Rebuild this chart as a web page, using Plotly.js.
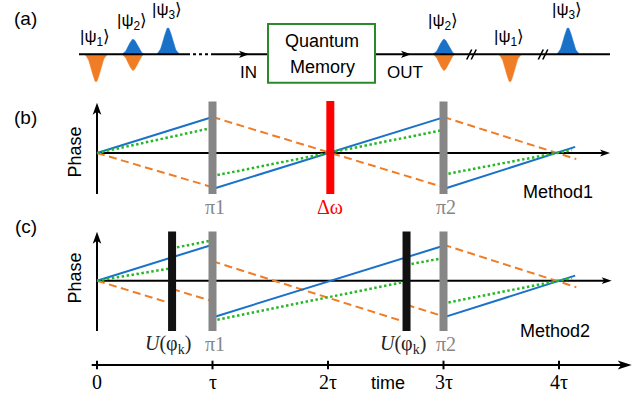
<!DOCTYPE html>
<html>
<head>
<meta charset="utf-8">
<script src="https://cdn.plot.ly/plotly-3.0.1.min.js"></script>
<style>
  html, body { margin: 0; padding: 0; background: #ffffff; }
  #chart { width: 637px; height: 394px; }
</style>
</head>
<body>
<div id="chart"></div>
<script>
// ---------- time axis (units of tau) ----------
const tickVals = [0, 1, 2, 3, 4];
const tickText = ['0', 'τ', '2τ', '3τ', '4τ'];

// ---------- control operations (times in units of tau) ----------
const piTimes = [1, 3];
const piNames = ['π1', 'π2'];
const shiftTimes = [2.02];
const shiftNames = ['Δω'];
const uTimes = [0.65, 2.68];
const uNames = ['<i>U</i>(φ<sub>k</sub>)', '<i>U</i>(φ<sub>k</sub>)'];

// ---------- Method 1: phase of each spectral component ----------
const m1BlueT   = [0, 1, null, 1, 3, null, 3, 4.14];
const m1BlueP   = [0, 1.00, null, -1.00, 0.99, null, -1.00, 0.17];
const m1GreenT  = [0, 1, null, 1, 3, null, 3, 4.11];
const m1GreenP  = [0, 0.70, null, -0.64, 0.64, null, -0.60, 0.08];
const m1OrangeT = [0, 1, null, 1, 3, null, 3, 4.15];
const m1OrangeP = [0, -0.95, null, 1.00, -0.95, null, 1.00, -0.17];

// ---------- Method 2: phase with U(phi_k) kicks ----------
const m2BlueT   = [0, 1, null, 1, 3, null, 3, 4.14];
const m2BlueP   = [0, 1.00, null, -1.02, 0.97, null, -1.02, 0.14];
const m2GreenT  = [0, 0.65, null, 0.65, 1, null, 1, 2.68, null, 2.68, 3, null, 3, 4.11];
const m2GreenP  = [0, 0.35, null, 0.90, 1.12, null, -1.11, -0.02, null, 0.44, 0.63, null, -0.63, 0.07];
const m2OrangeT = [0, 0.65, null, 0.65, 1, null, 1, 2.68, null, 2.68, 3, null, 3, 4.15];
const m2OrangeP = [0, -0.64, null, -0.23, -0.57, null, 0.54, -1.16, null, -0.67, -0.99, null, 1.00, -0.18];

// ---------- (a): pulse train in and out of the memory ----------
const stateNames = ['|ψ<sub>1</sub>⟩', '|ψ<sub>2</sub>⟩', '|ψ<sub>3</sub>⟩'];
const stateBlueAmp = [0, 0.56, 0.98];
const stateOrangeAmp = [-1.02, -0.60, 0];
const inSlot = [96, 133, 168];
const outSlot = [510, 444, 568];

// ---------- styling ----------
const W = 637, H = 394;
const BLUE = '#1a72c8', ORANGE = '#f07c26', GREEN = '#25b825';
const GRAY = '#868686', RED = '#ff0000', BOXGREEN = '#2a8a2a';
const SANS = 'Liberation Sans, Arial, sans-serif';
const SERIF = 'Liberation Serif, Times New Roman, serif';

// pixel -> paper helpers for the diagram decorations
const P = x => x / W;
const Q = y => 1 - y / H;

const traces = [];

function phaseTrace(t, p, color, dash, width, yaxis) {
  return { type: 'scatter', mode: 'lines', x: t, y: p, xaxis: 'x', yaxis: yaxis,
           connectgaps: false, hoverinfo: 'skip',
           line: { color: color, width: width, dash: dash } };
}

const DASH = '8px,4.5px', DOT = '2.5px,2.5px';
traces.push(phaseTrace(m1OrangeT, m1OrangeP, ORANGE, DASH, 2, 'y'));
traces.push(phaseTrace(m1BlueT, m1BlueP, BLUE, 'solid', 2, 'y'));
traces.push(phaseTrace(m1GreenT, m1GreenP, GREEN, DOT, 2.5, 'y'));
traces.push(phaseTrace(m2OrangeT, m2OrangeP, ORANGE, DASH, 2, 'y2'));
traces.push(phaseTrace(m2BlueT, m2BlueP, BLUE, 'solid', 2, 'y2'));
traces.push(phaseTrace(m2GreenT, m2GreenP, GREEN, DOT, 2.5, 'y2'));

// bell-shaped pulse on the schematic line
function pulseTrace(xc, amp, color) {
  const sigma = 4.2, n = 40, xs = [], ys = [];
  xs.push(xc - 2.6 * sigma); ys.push(0);
  for (let i = 0; i <= n; i++) {
    const u = -2.6 + 5.2 * i / n;
    xs.push(xc + u * sigma);
    ys.push(amp * Math.exp(-u * u / 2));
  }
  xs.push(xc + 2.6 * sigma); ys.push(0);
  return { type: 'scatter', mode: 'lines', x: xs, y: ys, xaxis: 'x2', yaxis: 'y3',
           fill: 'toself', fillcolor: color, hoverinfo: 'skip',
           line: { color: color, width: 0.5 } };
}
[inSlot, outSlot].forEach(slots => {
  slots.forEach((xc, i) => {
    if (stateBlueAmp[i] !== 0) traces.push(pulseTrace(xc, stateBlueAmp[i], BLUE));
    if (stateOrangeAmp[i] !== 0) traces.push(pulseTrace(xc, stateOrangeAmp[i], ORANGE));
  });
});

// ---------- shapes ----------
const shapes = [];
function seg(x0, y0, x1, y1, color, width, layer, dash) {
  shapes.push({ type: 'line', xref: 'paper', yref: 'paper',
                x0: P(x0), y0: Q(y0), x1: P(x1), y1: Q(y1), layer: layer || 'below',
                line: { color: color, width: width, dash: dash || 'solid' } });
}
function arrowHead(tx, ty, dir, L, Hh, notch) {
  let pts;
  if (dir === 'right') {
    pts = [[tx, ty], [tx - L, ty - Hh], [tx - L + notch, ty], [tx - L, ty + Hh]];
  } else {
    pts = [[tx, ty], [tx - Hh, ty + L], [tx, ty + L - notch], [tx + Hh, ty + L]];
  }
  const d = 'M' + pts.map(p => P(p[0]) + ',' + Q(p[1])).join(' L') + ' Z';
  shapes.push({ type: 'path', xref: 'paper', yref: 'paper', path: d, layer: 'above',
                fillcolor: '#000', line: { width: 0 } });
}

// (a) line with the memory box
const yA = 54.3;
seg(79, yA, 190, yA, '#000', 2, 'above');
seg(193, yA, 209, yA, '#000', 2, 'above', 'dot');
seg(211, yA, 268, yA, '#000', 2, 'above');
seg(375, yA, 610, yA, '#000', 2, 'above');
arrowHead(249, yA, 'right', 10, 3.6, 2.5);
arrowHead(411, yA, 'right', 10, 3.6, 2.5);
shapes.push({ type: 'rect', xref: 'paper', yref: 'paper', x0: P(268), x1: P(375),
              y0: Q(82.7), y1: Q(24), line: { color: BOXGREEN, width: 2 }, fillcolor: 'rgba(0,0,0,0)' });
// break marks on the output line
[471.7, 543.3].forEach(xc => {
  seg(xc - 5, 59.5, xc, 49.5, '#000', 1.6, 'above');
  seg(xc - 0.5, 59.5, xc + 4.5, 49.5, '#000', 1.6, 'above');
});

// (b) and (c) phase axes
const x0Ax = 97;
[[153, 194, 102.7, 610], [280.7, 331, 231.7, 611.7]].forEach(([yz, yb, yt, xt]) => {
  seg(x0Ax, yb, x0Ax, yt + 6, '#000', 2, 'below');
  arrowHead(x0Ax, yt, 'up', 12, 4.3, 3);
  seg(x0Ax, yz, xt - 5, yz, '#000', 2, 'below');
  arrowHead(xt, yz, 'right', 10, 3.4, 2.5);
});

// time axis
const yT = 365;
seg(91.7, yT, 626, yT, '#000', 2, 'below');
arrowHead(631.7, yT, 'right', 14, 4.5, 3.5);
tickVals.forEach(t => {
  shapes.push({ type: 'line', xref: 'x', yref: 'paper', x0: t, x1: t,
                y0: Q(yT - 4.3), y1: Q(yT + 4.3), line: { color: '#000', width: 2 } });
});

// control pulses drawn as bars over the phase lines
function bar(t, color, yTop, yBot) {
  shapes.push({ type: 'rect', xref: 'x', yref: 'paper', xsizemode: 'pixel', xanchor: t,
                x0: -4, x1: 4, y0: Q(yBot), y1: Q(yTop), layer: 'above',
                fillcolor: color, line: { width: 0 } });
}
piTimes.forEach(t => bar(t, GRAY, 101.5, 194));
shiftTimes.forEach(t => bar(t, RED, 101, 194));
uTimes.forEach(t => bar(t, '#111111', 231.5, 331));
piTimes.forEach(t => bar(t, GRAY, 231.5, 331));

// ---------- text ----------
const ann = [];
function txt(text, x, y, size, color, family, extra) {
  ann.push(Object.assign({ text: text, xref: 'paper', yref: 'paper', x: P(x), y: Q(y),
    xanchor: 'center', yanchor: 'middle', showarrow: false,
    font: { size: size, color: color || '#000', family: family || SANS } }, extra || {}));
}
txt('(a)', 25.5, 18, 19);
txt('(b)', 25.5, 117, 19);
txt('(c)', 25.5, 226, 19);
txt('Phase', 74.5, 152, 18, '#000', SANS, { textangle: -90 });
txt('Phase', 74.5, 278, 18, '#000', SANS, { textangle: -90 });
txt('Method1', 557.5, 192.5, 18);
txt('Method2', 555, 331, 18);
txt('Quantum', 322, 41, 18);
txt('Memory', 322, 67, 18);
txt('IN', 248, 72.5, 17);
txt('OUT', 405, 72.5, 17);
txt('time', 388, 383, 18);

// state labels above each pulse
[inSlot, outSlot].forEach(slots => {
  slots.forEach((xc, i) => {
    ann.push({ text: stateNames[i], xref: 'x2', yref: 'y3', x: xc - 1,
               y: Math.max(stateBlueAmp[i], 0) + 0.62, xanchor: 'center', yanchor: 'middle',
               showarrow: false, font: { size: 17, color: '#000', family: SANS } });
  });
});

// time tick labels
tickVals.forEach((t, i) => {
  ann.push({ text: tickText[i], xref: 'x', yref: 'paper', x: t, y: Q(382),
             xanchor: 'center', yanchor: 'middle', showarrow: false,
             font: { size: 20, color: '#000', family: SERIF } });
});

// pulse labels
function opLabel(text, t, y, color, xs) {
  ann.push({ text: text, xref: 'x', yref: 'paper', x: t, y: Q(y), xshift: xs || 0,
             xanchor: 'center', yanchor: 'middle', showarrow: false,
             font: { size: 20, color: color, family: SERIF } });
}
piTimes.forEach((t, i) => opLabel(piNames[i], t, 207, GRAY, 2));
shiftTimes.forEach((t, i) => opLabel(shiftNames[i], t, 207, RED, 0));
uTimes.forEach((t, i) => opLabel(uNames[i], t, 344, '#222', -4));
piTimes.forEach((t, i) => opLabel(piNames[i], t, 344, GRAY, 2));

const layout = {
  width: W, height: H,
  margin: { l: 0, r: 0, t: 0, b: 0, pad: 0 },
  paper_bgcolor: '#ffffff', plot_bgcolor: 'rgba(0,0,0,0)',
  showlegend: false,
  xaxis: { domain: [0, 1], range: [-97 / 115.5, (W - 97) / 115.5], visible: false, anchor: 'y' },
  yaxis: { domain: [Q(210), Q(95)], range: [(153 - 210) / 36, (153 - 95) / 36], visible: false, anchor: 'x' },
  yaxis2: { domain: [Q(338), Q(222)], range: [(280.7 - 338) / 36, (280.7 - 222) / 36], visible: false, anchor: 'x' },
  xaxis2: { domain: [0, 1], range: [0, W], visible: false, anchor: 'y3' },
  yaxis3: { domain: [Q(94), 1], range: [(54.3 - 94) / 27, 54.3 / 27], visible: false, anchor: 'x2' },
  shapes: shapes,
  annotations: ann
};

Plotly.newPlot('chart', traces, layout, { displayModeBar: false, staticPlot: true });
</script>
</body>
</html>
